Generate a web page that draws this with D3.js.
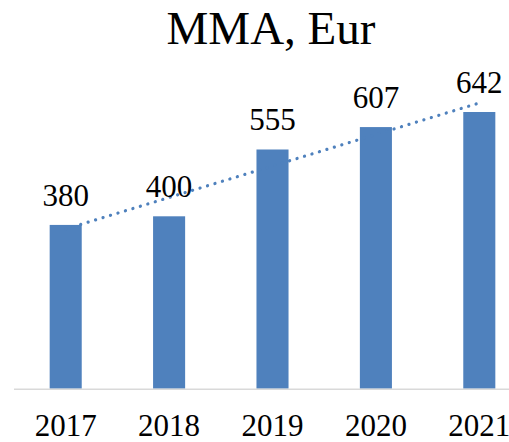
<!DOCTYPE html>
<html>
<head>
    <title>MMA, Eur</title>
    <style>
        body { margin: 0; background: #fff; }
        svg { display: block; }
    </style>
</head>
<body>
    <div id="chart"></div>
    <script src="https://d3js.org/d3.v7.min.js"></script>
    <script>
        // Chart data
        const years = ["2017", "2018", "2019", "2020", "2021"];
        const values = [380, 400, 555, 607, 642];
        const title = "MMA, Eur";

        const width = 509, height = 442;
        const plot = { left: 14, right: 531, top: 87, bottom: 388.7 };
        const font = "'Liberation Serif', 'Times New Roman', Times, serif";

        const svg = d3.select("#chart").append("svg")
            .attr("width", width)
            .attr("height", height);

        const x = d3.scaleBand()
            .domain(years)
            .range([plot.left, plot.right])
            .paddingInner(0.69)
            .paddingOuter(0.345);

        const y = d3.scaleLinear()
            .domain([0, 700])
            .range([plot.bottom, plot.top]);

        // Title
        svg.append("text")
            .attr("x", 271)
            .attr("y", 43.5)
            .attr("text-anchor", "middle")
            .attr("font-family", font)
            .attr("font-size", 47)
            .text(title);

        // Bars
        svg.selectAll(".bar").data(values)
            .enter().append("rect")
            .attr("class", "bar")
            .attr("x", (d, i) => x(years[i]))
            .attr("y", d => y(d))
            .attr("width", x.bandwidth())
            .attr("height", d => y(0) - y(d))
            .attr("fill", "#4f81bd");

        // Axis line
        svg.append("line")
            .attr("x1", plot.left)
            .attr("x2", plot.right)
            .attr("y1", y(0) + 0.5)
            .attr("y2", y(0) + 0.5)
            .attr("stroke", "#d9d9d9")
            .attr("stroke-width", 1.5);

        // Category labels
        svg.selectAll(".year").data(years)
            .enter().append("text")
            .attr("class", "year")
            .attr("x", d => x(d) + x.bandwidth() / 2)
            .attr("y", 436)
            .attr("text-anchor", "middle")
            .attr("font-family", font)
            .attr("font-size", 31)
            .text(d => d);

        // Linear trendline (least squares)
        const mx = d3.mean(values, (d, i) => i);
        const my = d3.mean(values);
        const slope = d3.sum(values, (d, i) => (i - mx) * (d - my)) / d3.sum(values, (d, i) => (i - mx) * (i - mx));
        const trend = values.map((d, i) => my + slope * (i - mx));

        svg.append("path")
            .datum(trend)
            .attr("fill", "none")
            .attr("stroke", "#4f81bd")
            .attr("stroke-width", 3.2)
            .attr("stroke-linecap", "round")
            .attr("stroke-dasharray", "0.1 7.7")
            .attr("d", d3.line()
                .x((d, i) => x(years[i]) + x.bandwidth() / 2)
                .y(d => y(d)));

        // Value labels
        svg.selectAll(".val").data(values)
            .enter().append("text")
            .attr("class", "val")
            .attr("x", (d, i) => x(years[i]) + x.bandwidth() / 2)
            .attr("y", d => y(d) - 19)
            .attr("text-anchor", "middle")
            .attr("font-family", font)
            .attr("font-size", 31)
            .text(d => d);
    </script>
</body>
</html>
